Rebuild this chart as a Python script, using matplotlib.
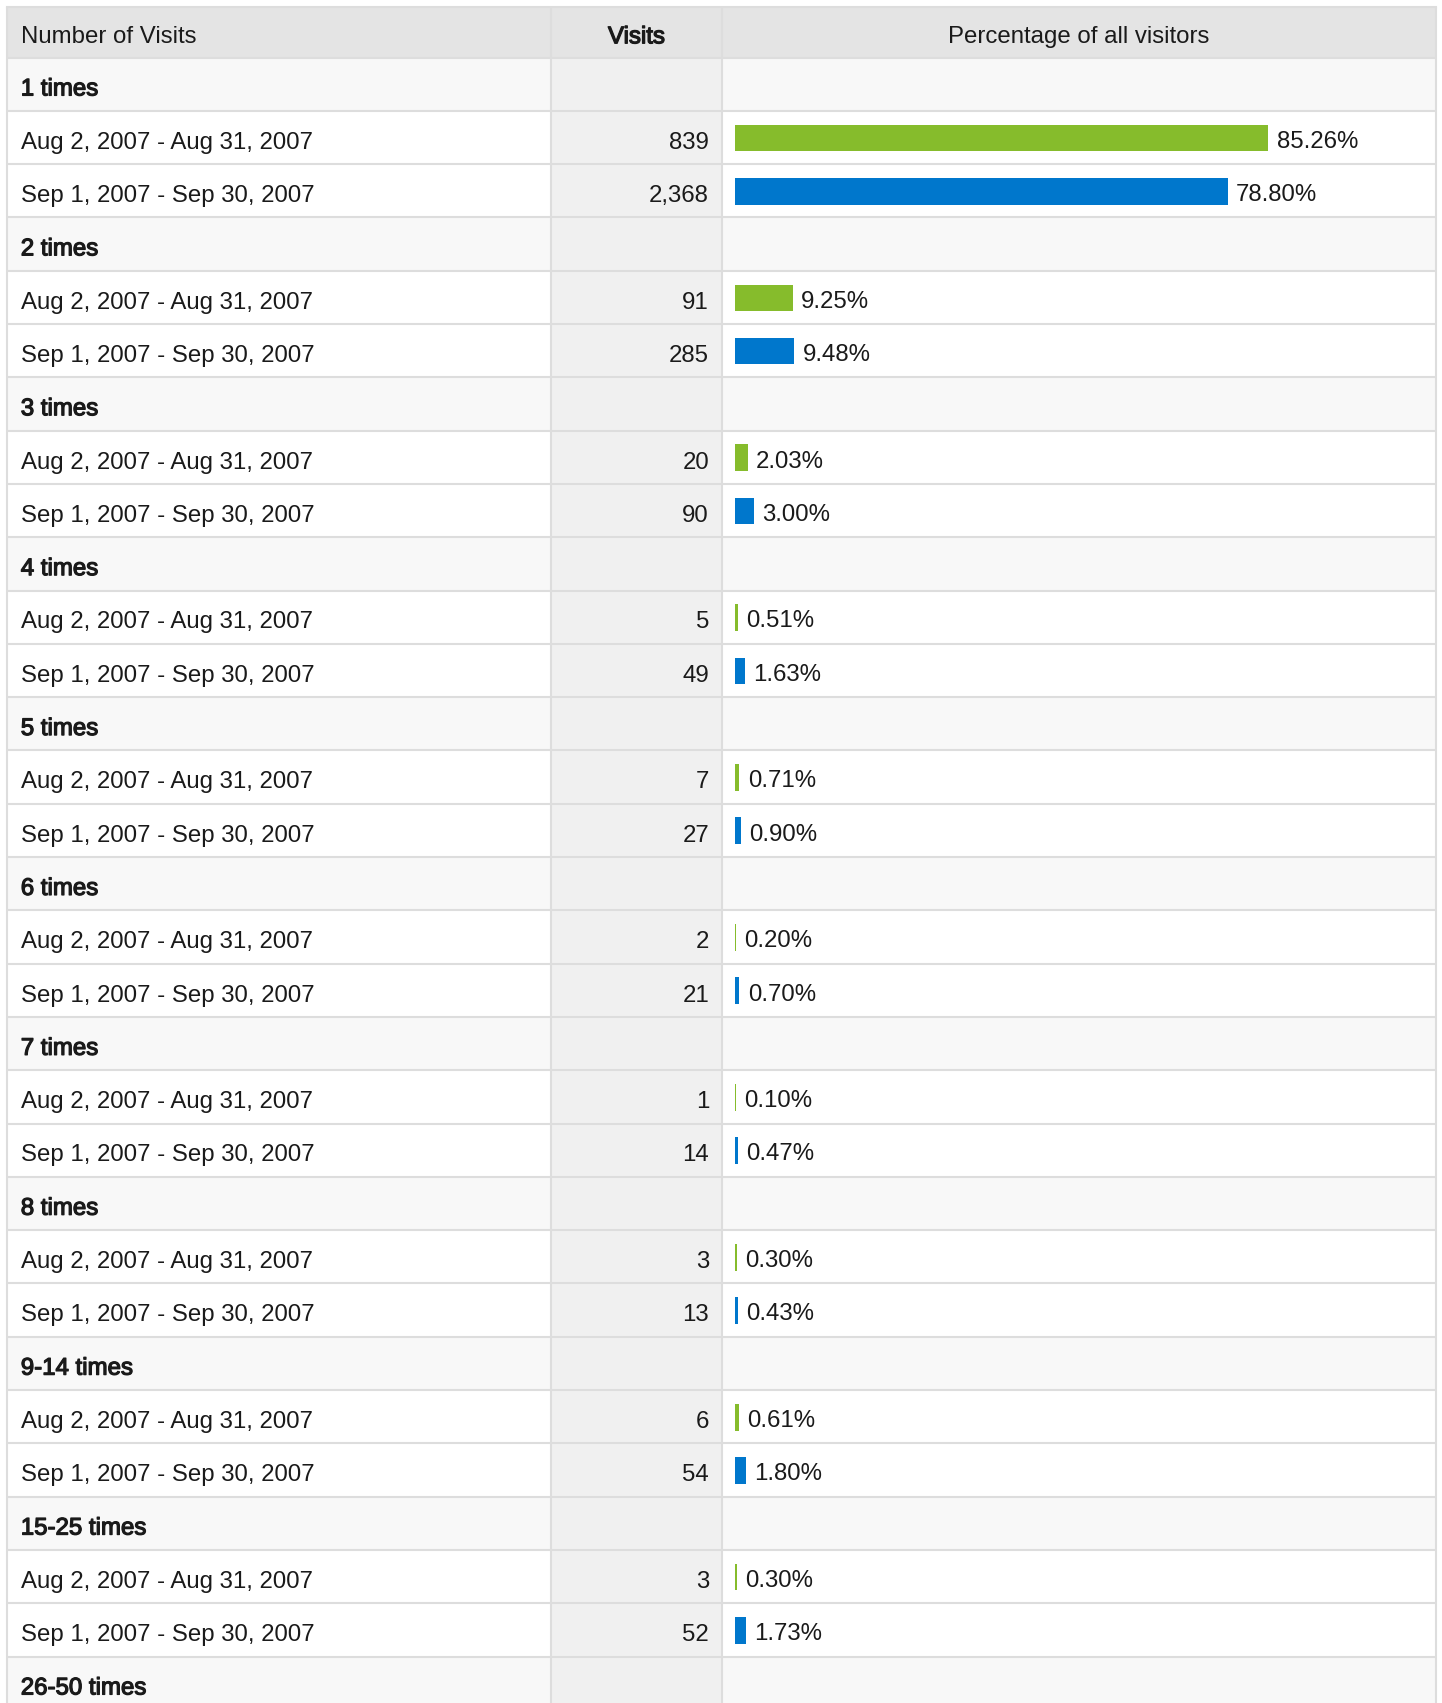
import matplotlib
matplotlib.use("Agg")
import matplotlib.pyplot as plt
import matplotlib.patheffects as pe
from matplotlib.patches import Rectangle

plt.rcParams['font.family'] = ['Liberation Sans', 'DejaVu Sans']

# dane z raportu
grupy = ["1 times", "2 times", "3 times", "4 times", "5 times", "6 times",
         "7 times", "8 times", "9-14 times", "15-25 times", "26-50 times"]
okresy = ["Aug 2, 2007 - Aug 31, 2007", "Sep 1, 2007 - Sep 30, 2007"]
wizyty_aug = [839, 91, 20, 5, 7, 2, 1, 3, 6, 3]
wizyty_sep = [2368, 285, 90, 49, 27, 21, 14, 13, 54, 52]
proc_aug = [85.26, 9.25, 2.03, 0.51, 0.71, 0.20, 0.10, 0.30, 0.61, 0.30]
proc_sep = [78.80, 9.48, 3.00, 1.63, 0.90, 0.70, 0.47, 0.43, 1.80, 1.73]
naglowki = ["Number of Visits", "Visits", "Percentage of all visitors"]

kolory = ['#86bc2c', '#0077cc']

W, H = 1442, 1703
fig = plt.figure(figsize=(W / 100, H / 100), dpi=100)
ax = fig.add_axes([0, 0, 1, 1])
ax.set_xlim(0, W)
ax.set_ylim(H, 0)
ax.axis('off')

# geometria tabeli w pikselach
x_lewo, x_kol1, x_kol2, x_prawo = 6.8, 550.7, 722, 1436
y_gora, y_nagl = 6.5, 57.5
wys_wiersza = 53.3
fs = 17.3
dy_baz = 11.3  # przesuniecie linii bazowej tekstu od srodka wiersza
kolor_tekstu = '#1a1a1a'
kolor_linii = '#dddddd'
lw_linii = 1.5
# "pogrubienie" przez obrys, jak w oryginale (szerokosc jak zwykly tekst)
pogrub = [pe.withStroke(linewidth=0.9, foreground=kolor_tekstu)]

# lista wierszy: (typ, etykieta, wizyty, procent, seria)
wiersze = []
for i, g in enumerate(grupy):
    wiersze.append(('grupa', g, None, None, None))
    if i < len(wizyty_aug):
        wiersze.append(('dane', okresy[0], wizyty_aug[i], proc_aug[i], 0))
        wiersze.append(('dane', okresy[1], wizyty_sep[i], proc_sep[i], 1))

# tlo naglowka
ax.add_patch(Rectangle((x_lewo, y_gora), x_prawo - x_lewo, y_nagl - y_gora,
                       facecolor='#e4e4e4', edgecolor='none'))
y_tekst = (y_gora + y_nagl) / 2 + dy_baz
ax.text(x_lewo + 14, y_tekst, naglowki[0], fontsize=fs, color=kolor_tekstu, va='baseline')
ax.text((x_kol1 + x_kol2) / 2, y_tekst, naglowki[1], fontsize=fs, color=kolor_tekstu,
        va='baseline', ha='center', path_effects=pogrub)
ax.text((x_kol2 + x_prawo) / 2, y_tekst, naglowki[2], fontsize=fs, color=kolor_tekstu,
        va='baseline', ha='center')

srodki, wartosci, serie = [], [], []
n_wid = 0
for n, (typ, etyk, wiz, proc, s) in enumerate(wiersze):
    y0 = y_nagl + n * wys_wiersza
    if y0 > H:
        break
    n_wid += 1
    tlo = '#f8f8f8' if typ == 'grupa' else 'white'
    ax.add_patch(Rectangle((x_lewo, y0), x_prawo - x_lewo, wys_wiersza,
                           facecolor=tlo, edgecolor='none'))
    ax.add_patch(Rectangle((x_kol1, y0), x_kol2 - x_kol1, wys_wiersza,
                           facecolor='#f0f0f0', edgecolor='none'))
    yb = y0 + wys_wiersza / 2 + dy_baz
    if typ == 'grupa':
        ax.text(x_lewo + 14, yb, etyk, fontsize=fs, color=kolor_tekstu,
                va='baseline', path_effects=pogrub)
    else:
        ax.text(x_lewo + 14, yb, etyk, fontsize=fs, color=kolor_tekstu, va='baseline')
        ax.text(x_kol2 - 13, yb, f"{wiz:,}", fontsize=fs, color=kolor_tekstu,
                va='baseline', ha='right')
        srodki.append(y0 + wys_wiersza / 2 + 0.5)
        wartosci.append(proc)
        serie.append(s)

# linie siatki
for n in range(n_wid + 1):
    y = y_nagl + n * wys_wiersza
    ax.plot([x_lewo, x_prawo], [y, y], color=kolor_linii, lw=lw_linii, solid_capstyle='butt')
ax.plot([x_lewo, x_prawo], [y_gora, y_gora], color=kolor_linii, lw=lw_linii)
for x in [x_lewo, x_kol1, x_kol2, x_prawo]:
    ax.plot([x, x], [y_gora, H], color=kolor_linii, lw=lw_linii, solid_capstyle='butt')

# slupki procentowe w osobnej osi (skala w procentach)
px_na_proc = 6.255
x0_slupka = 735
ax2 = fig.add_axes([x0_slupka / W, 0, (x_prawo - x0_slupka) / W, 1])
ax2.set_xlim(0, (x_prawo - x0_slupka) / px_na_proc)
ax2.set_ylim(H, 0)
ax2.axis('off')
ax2.patch.set_alpha(0)
ax2.barh(srodki, wartosci, height=26.7, left=0,
         color=[kolory[s] for s in serie], edgecolor='none')
for yc, p in zip(srodki, wartosci):
    ax2.annotate(f"{p:.2f}%", xy=(p, yc + dy_baz - 1.5), xytext=(6.0, 0),
                 textcoords='offset points', fontsize=fs, color=kolor_tekstu,
                 va='baseline', ha='left')

fig.savefig("out.png", dpi=100)
